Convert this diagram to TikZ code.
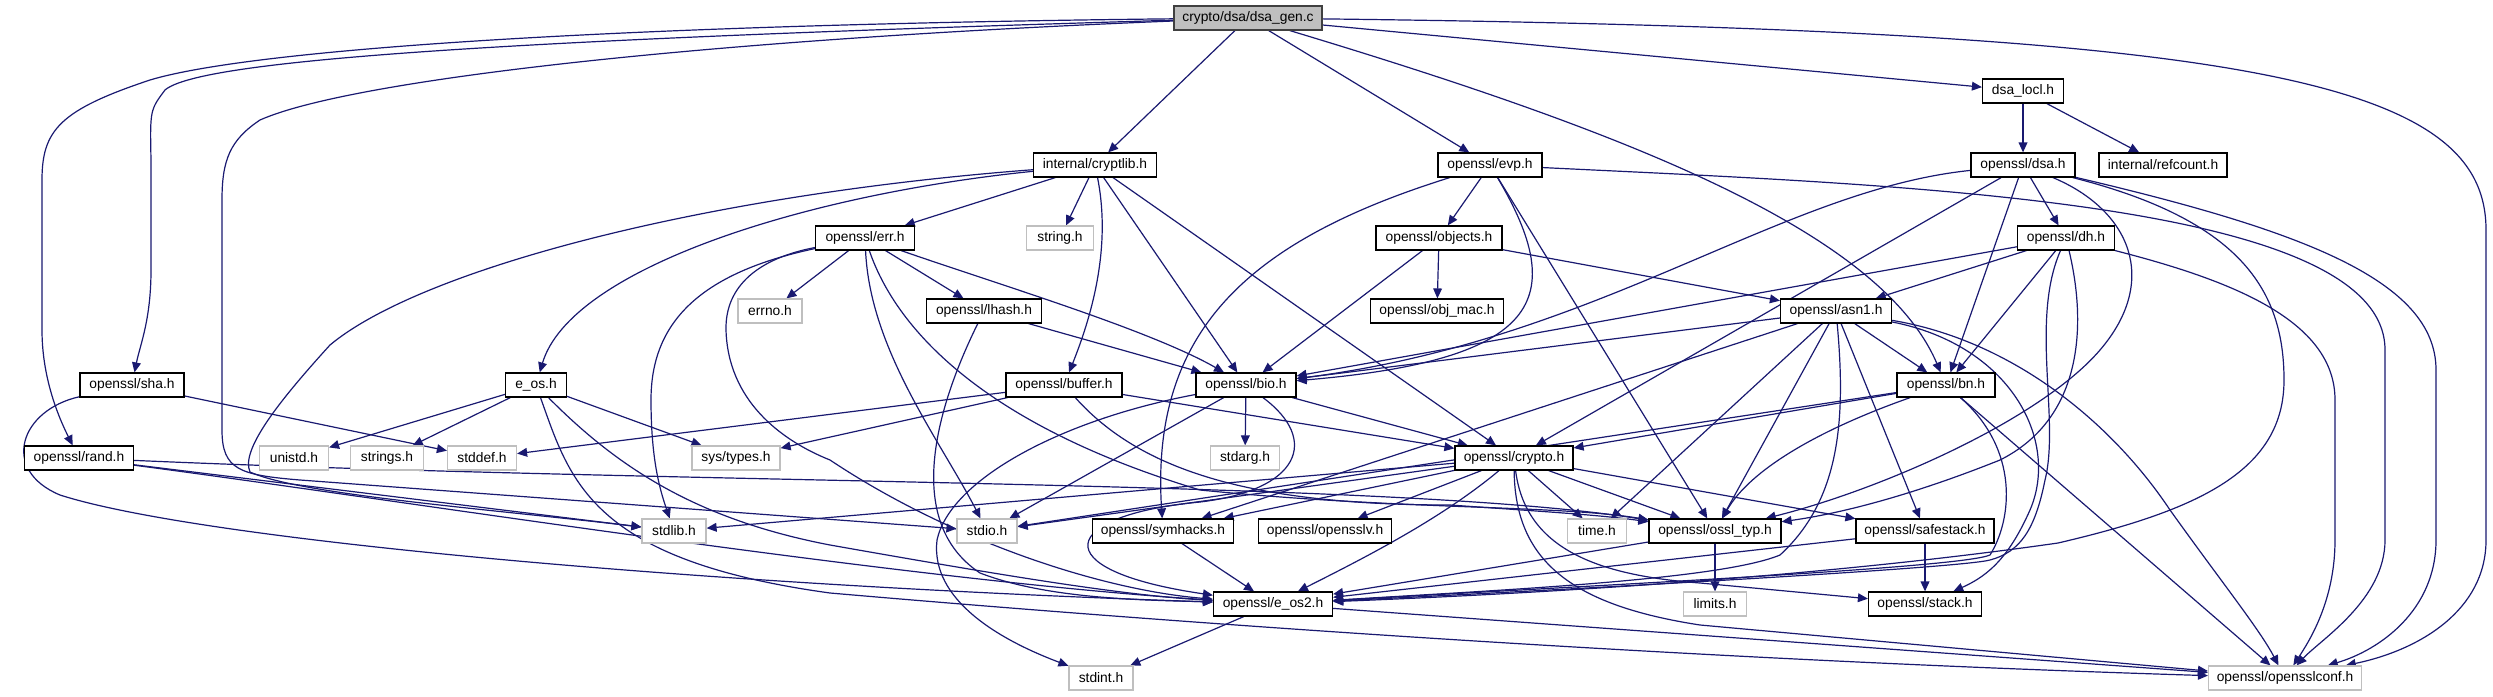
\documentclass[tikz,border=0pt]{standalone}
\usepackage{fontspec}
\setmainfont{Liberation Sans}
\usetikzlibrary{arrows.meta,backgrounds}
\definecolor{edgec}{HTML}{191970}
\definecolor{sysc}{HTML}{BFBFBF}
\definecolor{rootc}{HTML}{BFBFBF}
\begin{document}
\begin{tikzpicture}[x=0.5pt,y=-0.5pt,
  bw/.style={minimum width=#1*0.5pt},
  hb/.style={draw=black,line width=0.6pt,fill=white,minimum height=12pt,inner sep=0pt,font=\fontsize{6.9}{7.5}\selectfont},
  sb/.style={hb,draw=sysc},
  edg/.style={draw=edgec,line width=0.6pt,-{Triangle[length=5pt,width=4.4pt]}}]
\useasboundingbox (0,0) rectangle (2493,696);

\node[hb,bw=148,fill=rootc,draw=black!75] (dsagen) at (1248,18) {crypto/dsa/dsa\_gen.c};
\node[hb,bw=81] (dsalocl) at (2023,91) {dsa\_locl.h};
\node[hb,bw=123] (cryptlib) at (1095,165) {internal/cryptlib.h};
\node[hb,bw=104] (evp) at (1490,165) {openssl/evp.h};
\node[hb,bw=104] (dsa) at (2023,165) {openssl/dsa.h};
\node[hb,bw=128] (refcount) at (2163,165) {internal/refcount.h};
\node[hb,bw=99] (err) at (865,238) {openssl/err.h};
\node[sb,bw=67] (string) at (1060,238) {string.h};
\node[hb,bw=126] (objects) at (1439,238) {openssl/objects.h};
\node[hb,bw=97] (dh) at (2066,238) {openssl/dh.h};
\node[sb,bw=64] (errno) at (770,311) {errno.h};
\node[hb,bw=115] (lhash) at (984,311) {openssl/lhash.h};
\node[hb,bw=133] (objmac) at (1437,311) {openssl/obj\_mac.h};
\node[hb,bw=111] (asn1) at (1836,311) {openssl/asn1.h};
\node[hb,bw=104] (sha) at (132,385) {openssl/sha.h};
\node[hb,bw=61] (eos) at (536,385) {e\_os.h};
\node[hb,bw=116] (buffer) at (1064,385) {openssl/buffer.h};
\node[hb,bw=100] (bio) at (1246,385) {openssl/bio.h};
\node[hb,bw=98] (bn) at (1946,385) {openssl/bn.h};
\node[hb,bw=109] (rand) at (79,458) {openssl/rand.h};
\node[sb,bw=69] (unistd) at (294,458) {unistd.h};
\node[sb,bw=73] (strings) at (387,458) {strings.h};
\node[sb,bw=69] (stddef) at (482,458) {stddef.h};
\node[sb,bw=88] (systypes) at (736,458) {sys/types.h};
\node[sb,bw=69] (stdarg) at (1245,458) {stdarg.h};
\node[hb,bw=118] (crypto) at (1514,458) {openssl/crypto.h};
\node[sb,bw=64] (stdlib) at (674,531) {stdlib.h};
\node[sb,bw=60] (stdio) at (987,531) {stdio.h};
\node[hb,bw=141] (symhacks) at (1163,531) {openssl/symhacks.h};
\node[hb,bw=133] (opensslv) at (1325,531) {openssl/opensslv.h};
\node[sb,bw=59] (timeh) at (1597,531) {time.h};
\node[hb,bw=132] (ossltyp) at (1715,531) {openssl/ossl\_typ.h};
\node[hb,bw=138] (safestack) at (1925,531) {openssl/safestack.h};
\node[hb,bw=119] (eostwo) at (1273,604) {openssl/e\_os2.h};
\node[sb,bw=63] (limits) at (1715,604) {limits.h};
\node[hb,bw=113] (stack) at (1925,604) {openssl/stack.h};
\node[sb,bw=64] (stdint) at (1101,678) {stdint.h};
\node[sb,bw=153] (conf) at (2285,678) {openssl/opensslconf.h};

\begin{scope}[on background layer]
% dsa_gen.c
\draw[edg] (dsagen) -- (cryptlib);
\draw[edg] (dsagen) -- (evp);
\draw[edg] (dsagen) -- (dsalocl);
\draw[edg] (dsagen) .. controls (1620,130) and (1880,230) .. (bn);
\draw[edg] (dsagen) .. controls (2250,30) and (2486,80) .. (2486,230) -- (2486,540) .. controls (2486,610) and (2420,650) .. (conf);
\draw[edg] (dsagen) .. controls (500,40) and (200,60) .. (165,90) .. controls (150,110) .. (151,160) -- (151,270) .. controls (151,320) and (140,345) .. (sha);
\draw[edg] (dsagen) .. controls (600,25) and (250,50) .. (150,80) .. controls (60,110) and (42,130) .. (42,180) -- (42,330) .. controls (42,380) and (60,420) .. (rand);
\draw[edg] (dsagen) .. controls (700,40) and (350,80) .. (260,120) .. controls (230,140) and (222,160) .. (222,200) -- (222,430) .. controls (222,470) and (240,475) .. (300,480) -- (stdio);
% cryptlib
\draw[edg] (cryptlib) -- (err);
\draw[edg] (cryptlib) -- (string);
\draw[edg] (cryptlib) .. controls (800,195) and (570,270) .. (eos);
\draw[edg] (cryptlib) .. controls (700,195) and (420,270) .. (330,345) .. controls (280,400) and (240,450) .. (250,472) .. controls (300,495) and (500,510) .. (stdlib);
\draw[edg] (cryptlib) .. controls (1112,250) and (1090,320) .. (buffer);
\draw[edg] (cryptlib) -- (bio);
\draw[edg] (cryptlib) -- (crypto);
% evp
\draw[edg] (evp) .. controls (1250,240) and (1150,330) .. (symhacks);
\draw[edg] (evp) -- (objects);
\draw[edg] (evp) .. controls (1570,300) and (1540,360) .. (bio);
\draw[edg] (evp) -- (ossltyp);
\draw[edg] (evp) .. controls (1900,185) and (2385,200) .. (2385,350) -- (2385,540) .. controls (2385,600) and (2320,640) .. (conf);
% objects
\draw[edg] (objects) -- (objmac);
\draw[edg] (objects) -- (bio);
\draw[edg] (objects) -- (asn1);
% err
\draw[edg] (err) -- (errno);
\draw[edg] (err) -- (lhash);
\draw[edg] (err) .. controls (1000,285) and (1150,330) .. (bio);
\draw[edg] (err) .. controls (870,350) and (940,440) .. (stdio);
\draw[edg] (err) .. controls (900,340) and (1000,430) .. (1200,490) .. controls (1400,510) and (1560,505) .. (ossltyp);
\draw[edg] (err) .. controls (690,275) and (651,330) .. (651,400) .. controls (651,460) and (660,490) .. (stdlib);
\draw[edg] (err) .. controls (760,258) and (725,285) .. (726,330) .. controls (728,400) and (780,440) .. (830,460) .. controls (950,540) and (1100,590) .. (eostwo);
% lhash
\draw[edg] (lhash) .. controls (940,400) and (900,520) .. (980,573) .. controls (1050,600) and (1150,600) .. (eostwo);
\draw[edg] (lhash) -- (bio);
% dsa_locl
\draw[edg] (dsalocl) -- (dsa);
\draw[edg] (dsalocl) -- (refcount);
% dsa
\draw[edg] (dsa) .. controls (1780,190) and (1600,340) .. (bio);
\draw[edg] (dsa) -- (crypto);
\draw[edg] (dsa) -- (bn);
\draw[edg] (dsa) -- (dh);
\draw[edg] (dsa) .. controls (2130,210) and (2160,280) .. (2100,350) .. controls (2040,420) and (1880,490) .. (ossltyp);
\draw[edg] (dsa) .. controls (2240,220) and (2284,290) .. (2284,380) .. controls (2284,470) and (2200,510) .. (2058,543) .. controls (1800,580) and (1500,595) .. (eostwo);
\draw[edg] (dsa) .. controls (2300,230) and (2436,280) .. (2436,370) -- (2436,540) .. controls (2436,610) and (2380,650) .. (conf);
% dh
\draw[edg] (dh) -- (bio);
\draw[edg] (dh) -- (asn1);
\draw[edg] (dh) -- (bn);
\draw[edg] (dh) .. controls (2088,330) and (2080,420) .. (2000,460) .. controls (1900,500) and (1830,515) .. (ossltyp);
\draw[edg] (dh) .. controls (2030,320) and (2060,420) .. (2045,480) .. controls (2035,530) and (2020,552) .. (1990,560) .. controls (1960,568) and (1600,588) .. (eostwo);
\draw[edg] (dh) .. controls (2230,280) and (2335,320) .. (2335,400) -- (2335,540) .. controls (2335,600) and (2310,640) .. (conf);
% asn1
\draw[edg] (asn1) -- (bio);
\draw[edg] (asn1) -- (symhacks);
\draw[edg] (asn1) -- (timeh);
\draw[edg] (asn1) -- (ossltyp);
\draw[edg] (asn1) -- (safestack);
\draw[edg] (asn1) -- (bn);
\draw[edg] (asn1) .. controls (1846,420) and (1840,500) .. (1780,555) .. controls (1720,580) and (1500,590) .. (eostwo);
\draw[edg] (asn1) .. controls (2010,345) and (2060,440) .. (2030,510) .. controls (2010,555) and (1990,575) .. (stack);
\draw[edg] (asn1) .. controls (2010,340) and (2110,420) .. (2170,510) .. controls (2220,580) and (2260,630) .. (conf);
% bn
\draw[edg] (bn) -- (stdio);
\draw[edg] (bn) -- (crypto);
\draw[edg] (bn) .. controls (1818,430) and (1750,470) .. (ossltyp);
\draw[edg] (bn) .. controls (2020,450) and (2012,520) .. (1990,555) .. controls (1960,568) and (1600,585) .. (eostwo);
\draw[edg] (bn) -- (conf);
% bio
\draw[edg] (bio) .. controls (1060,420) and (950,480) .. (937,540) .. controls (930,600) and (1000,640) .. (stdint);
\draw[edg] (bio) -- (stdio);
\draw[edg] (bio) -- (stdarg);
\draw[edg] (bio) .. controls (1320,440) and (1300,490) .. (1200,502) .. controls (1060,515) and (1040,570) .. (eostwo);
\draw[edg] (bio) -- (crypto);
% buffer
\draw[edg] (buffer) -- (stddef);
\draw[edg] (buffer) -- (systypes);
\draw[edg] (buffer) -- (crypto);
\draw[edg] (buffer) .. controls (1140,470) and (1250,505) .. (1450,505) .. controls (1550,512) and (1600,515) .. (ossltyp);
% crypto
\draw[edg] (crypto) -- (stdlib);
\draw[edg] (crypto) -- (stdio);
\draw[edg] (crypto) -- (symhacks);
\draw[edg] (crypto) -- (opensslv);
\draw[edg] (crypto) .. controls (1440,520) and (1360,560) .. (eostwo);
\draw[edg] (crypto) -- (timeh);
\draw[edg] (crypto) -- (ossltyp);
\draw[edg] (crypto) -- (safestack);
\draw[edg] (crypto) .. controls (1525,545) and (1590,575) .. (1700,583) -- (stack);
\draw[edg] (crypto) .. controls (1515,560) and (1570,605) .. (1700,625) -- (conf);
% e_os
\draw[edg] (eos) -- (unistd);
\draw[edg] (eos) -- (strings);
\draw[edg] (eos) -- (systypes);
\draw[edg] (eos) .. controls (620,470) and (700,520) .. (830,545) .. controls (1000,575) and (1120,595) .. (eostwo);
\draw[edg] (eos) .. controls (570,480) and (590,560) .. (830,593) .. controls (1200,625) and (1700,660) .. (conf);
% sha
\draw[edg] (sha) -- (stddef);
\draw[edg] (sha) .. controls (20,410) and (0,470) .. (60,495) .. controls (200,540) and (700,585) .. (eostwo);
% rand
\draw[edg] (rand) -- (stdlib);
\draw[edg] (rand) .. controls (700,485) and (1400,480) .. (ossltyp);
\draw[edg] (rand) .. controls (400,500) and (900,580) .. (eostwo);
% others
\draw[edg] (symhacks) -- (eostwo);
\draw[edg] (ossltyp) -- (limits);
\draw[edg] (ossltyp) -- (eostwo);
\draw[edg] (safestack) -- (stack);
\draw[edg] (safestack) -- (eostwo);
\draw[edg] (eostwo) -- (stdint);
\draw[edg] (eostwo) -- (conf);
\end{scope}
\end{tikzpicture}
\end{document}
